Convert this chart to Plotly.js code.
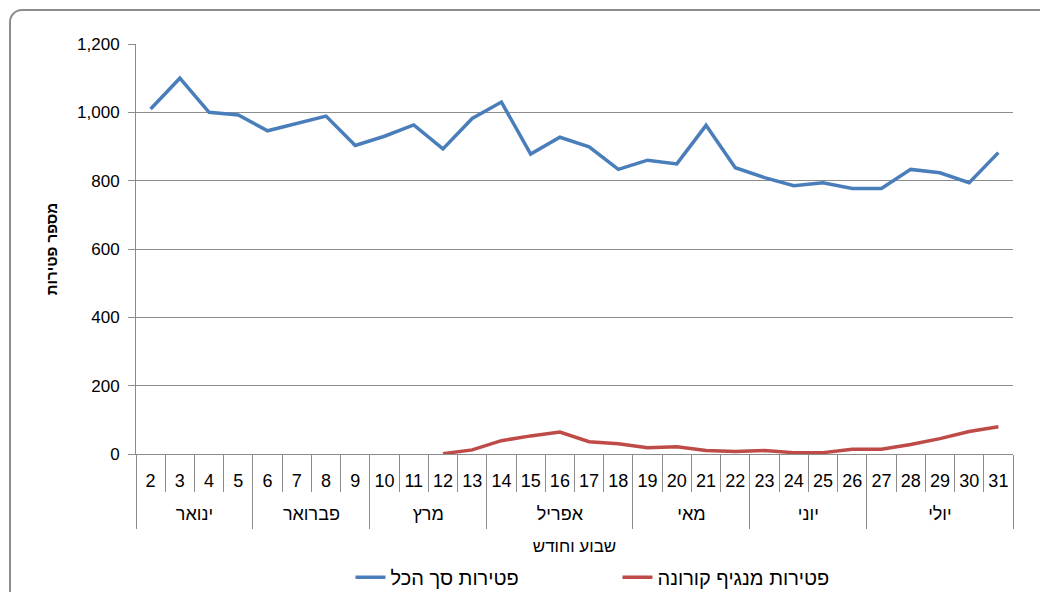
<!DOCTYPE html>
<html>
<head>
<meta charset="utf-8">
<script src="https://cdn.plot.ly/plotly-3.0.1.min.js"></script>
<style>
  body { margin: 0; background: #fff; }
  #chart { position: absolute; left: 0; top: 0; width: 1040px; height: 592px; }
  #frame {
    position: absolute; left: 9px; top: 9px; width: 1040px; height: 592px;
    border: 2px solid #8c8c8c; border-radius: 13px; pointer-events: none;
  }
</style>
</head>
<body>
<div id="chart"></div>
<div id="frame"></div>
<script>
const weeks = ["2","3","4","5","6","7","8","9","10","11","12","13","14","15","16",
               "17","18","19","20","21","22","23","24","25","26","27","28","29","30","31"];
const monthNames = ["ינואר", "פברואר", "מרץ", "אפריל", "מאי", "יוני", "יולי"];
const weeksPerMonth = [4, 4, 4, 5, 4, 4, 5];

const totalDeaths = [1010, 1100, 1000, 992, 946, 967, 989, 903, 930, 963,
                     893, 982, 1030, 878, 927, 899, 833, 860, 849, 962,
                     838, 809, 785, 794, 777, 777, 833, 823, 794, 882];
const coronaDeaths = [null, null, null, null, null, null, null, null, null, null,
                      1, 12, 39, 53, 64, 36, 30, 18, 21, 10,
                      7, 10, 4, 4, 14, 14, 28, 45, 66, 80];

const totalName = "פטירות סך הכל";
const coronaName = "פטירות מנגיף קורונה";

// second x axis counts in week numbers: month label centred on its weeks,
// divider lines on the month edges
const firstWeek = Number(weeks[0]) - 0.5;
const lastWeek = Number(weeks[weeks.length - 1]) + 0.5;
const monthCenters = [];
const monthEdges = [firstWeek];
let pos = firstWeek;
weeksPerMonth.forEach(n => {
    monthCenters.push(pos + n / 2);
    pos += n;
    monthEdges.push(pos);
});

const font = "Liberation Sans, Arial, sans-serif";
const grey = "#8c8c8c";

var trace1 = {
    x: weeks, y: totalDeaths, name: totalName,
    mode: "lines", line: {color: "#4a7ebb", width: 3.5}
};
var trace2 = {
    x: weeks, y: coronaDeaths, name: coronaName, xaxis: "x2",
    mode: "lines", line: {color: "#be4b48", width: 3.5}
};

var layout = {
    width: 1040, height: 592,
    margin: {l: 136, r: 27, t: 44, b: 138},
    paper_bgcolor: "#fff", plot_bgcolor: "#fff",
    font: {family: font, size: 17, color: "#000"},
    showlegend: true,
    legend: {
        orientation: "h", xref: "container", yref: "container",
        x: 0.337, xanchor: "left", y: 0.025, yanchor: "middle",
        entrywidth: 222, font: {size: 20}
    },
    xaxis: {
        type: "category", range: [-0.5, 29.5], showgrid: false,
        showline: true, linecolor: grey, linewidth: 1,
        ticks: "outside", tickson: "boundaries", ticklen: 37, tickcolor: grey,
        ticklabelstandoff: 10,
        tickfont: {size: 18},
        automargin: false
    },
    xaxis2: {
        type: "linear", overlaying: "x", anchor: "y", side: "bottom",
        range: [firstWeek, lastWeek], showgrid: false, zeroline: false, showline: false,
        tickmode: "array", tickvals: monthCenters, ticktext: monthNames,
        ticks: "", ticklabelstandoff: 47,
        tickfont: {size: 18},
        minor: {tickmode: "array", tickvals: monthEdges, ticks: "outside",
                ticklen: 74, tickcolor: grey, showgrid: false},
        title: {text: "שבוע וחודש", font: {size: 17}, standoff: 17},
        automargin: false
    },
    yaxis: {
        range: [0, 1200], dtick: 200, tickformat: ",",
        showline: true, linecolor: grey, linewidth: 1,
        ticks: "outside", ticklen: 7, tickcolor: grey,
        ticklabelstandoff: 5,
        gridcolor: grey, gridwidth: 1, zeroline: false,
        tickfont: {size: 17},
        title: {text: "מספר פטירות", font: {size: 15, weight: "bold"}, standoff: 15},
        automargin: false
    }
};

Plotly.newPlot("chart", [trace1, trace2], layout, {displayModeBar: false, staticPlot: true});
</script>
</body>
</html>
